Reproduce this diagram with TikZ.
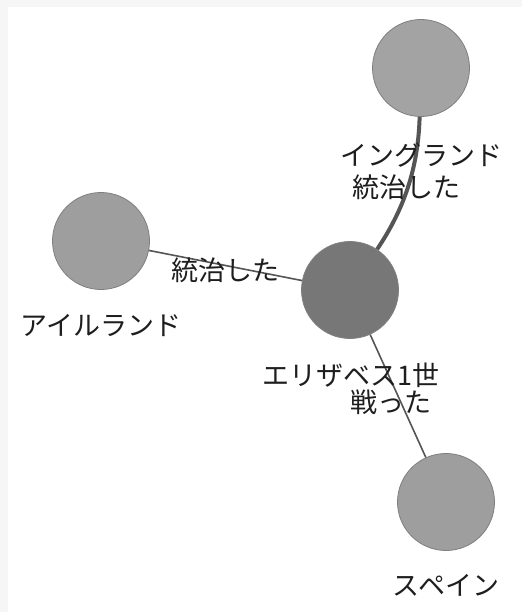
\documentclass[tikz,border=0pt]{standalone}
\usepackage{fontspec}
\newfontfamily\jp{Noto Sans CJK JP}
\definecolor{bgout}{HTML}{F6F6F6}
\definecolor{txt}{HTML}{1E1E1E}
\definecolor{edgec}{HTML}{555555}
\definecolor{ringc}{HTML}{7F7F7F}
\definecolor{lightfill}{HTML}{A3A3A3}
\definecolor{midfill}{HTML}{9E9E9E}
\definecolor{darkfill}{HTML}{777777}
\tikzset{
  ent/.style={circle, minimum size=97pt, inner sep=0pt, draw=ringc, line width=0.8pt},
  lbl/.style={font=\jp\fontsize{27pt}{30pt}\selectfont, text=txt, inner sep=0pt, anchor=center},
  rel/.style={draw=edgec, line width=1.6pt},
  relthick/.style={draw=edgec, line width=4pt},
}
\begin{document}
\begin{tikzpicture}[x=1pt,y=-1pt]
\useasboundingbox (0,0) rectangle (522,612);
\fill[bgout] (0,0) rectangle (522,612);
\fill[white] (8,7) rectangle (522,612);
\node[ent, fill=lightfill] (eng) at (421,68) {};
\node[ent, fill=midfill] (ire) at (101,241) {};
\node[ent, fill=darkfill] (eliz) at (350,290) {};
\node[ent, fill=midfill] (spa) at (446,502) {};
\draw[relthick] (eng) .. controls (418,175) and (400,215) .. (eliz);
\draw[rel] (ire) -- (eliz);
\draw[rel] (eliz) -- (spa);
\node[lbl] (engl) at (421,155) {イングランド};
\node[lbl] (irel) at (101,326) {アイルランド};
\node[lbl] (elizl) at (351,375) {エリザベス1世};
\node[lbl] (spal) at (446,585) {スペイン};
\node[lbl] (r1) at (406,187) {統治した};
\node[lbl] (r2) at (225,270) {統治した};
\node[lbl] (r3) at (391,402) {戦った};
\end{tikzpicture}
\end{document}
